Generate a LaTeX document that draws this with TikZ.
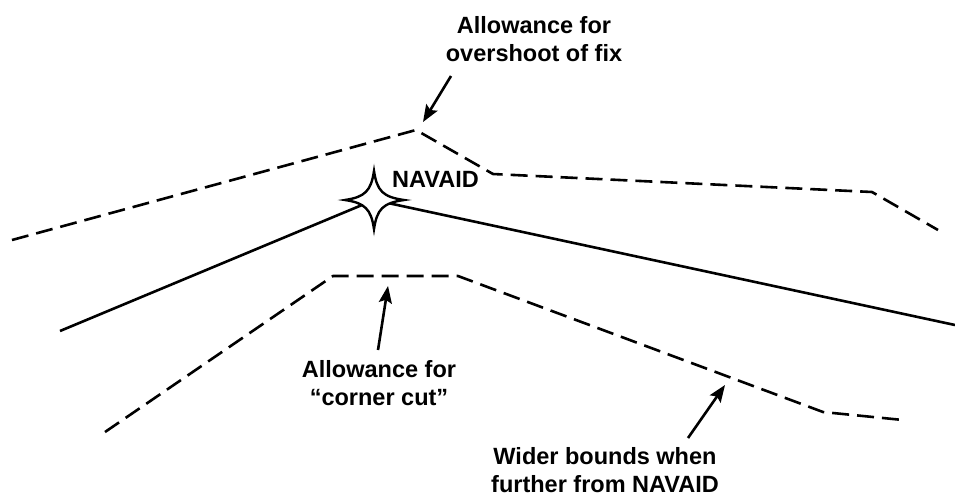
\documentclass[tikz,border=0pt]{standalone}
\usepackage{fontspec}
\setmainfont{Liberation Sans}
\usetikzlibrary{arrows.meta}
\begin{document}
\begin{tikzpicture}[x=1pt,y=-1pt,
  route/.style={line width=2.6pt, line join=round},
  bound/.style={line width=2.6pt, dash pattern=on 17pt off 8pt, line join=round},
  pointer/.style={line width=2.6pt, -{Stealth[length=17pt,width=13pt,inset=3pt]}},
  lbl/.style={font=\fontsize{23.5}{27.5}\selectfont\bfseries, align=center, inner sep=0pt, anchor=base}]
\useasboundingbox (0,0) rectangle (955,499);

% outer (overshoot) boundary
\coordinate (u1) at (12,240);
\coordinate (u2) at (416,130);
\coordinate (u3) at (493,174);
\coordinate (u4) at (872,192);
\coordinate (u5) at (938,230);
\draw[bound] (u1) -- (u2) -- (u3) -- (u4) -- (u5);

% nominal route through the navaid
\coordinate (r1) at (60,331);
\coordinate (navaid) at (374,200);
\coordinate (r2) at (955,325);
\draw[route] (r1) -- (navaid) -- (r2);

% inner (corner cut) boundary
\coordinate (l1) at (105,432);
\coordinate (l2) at (333,276);
\coordinate (l3) at (458,276);
\coordinate (l4) at (823,412);
\coordinate (l5) at (903,420);
\draw[bound] (l1) -- (l2) -- (l3) -- (l4) -- (l5);

% four-pointed navaid star
\draw[shift={(navaid)}, line width=2.4pt, fill=white, line join=miter, miter limit=20]
  (0,-29) .. controls (3,-9) and (9,-3) .. (30,0)
  .. controls (9,3) and (3,9) .. (0,29)
  .. controls (-3,9) and (-9,3) .. (-29,0)
  .. controls (-9,-3) and (-3,-9) .. cycle;

% labels (base anchor sits on the last line)
\node[lbl] (overshoot) at (534,61) {Allowance for\\overshoot of fix};
\node[lbl, anchor=base west] (navlbl) at (392,187) {NAVAID};
\node[lbl] (cornercut) at (379,405) {Allowance for\\“corner cut”};
\node[lbl] (wider) at (605,492) {Wider bounds when\\further from NAVAID};

% pointers
\coordinate (p1t) at (451,76);
\coordinate (p1h) at (423,122);
\draw[pointer] (p1t) -- (p1h);
\coordinate (p2t) at (378,350);
\coordinate (p2h) at (388,286);
\draw[pointer] (p2t) -- (p2h);
\coordinate (p3t) at (688,438);
\coordinate (p3h) at (725,385);
\draw[pointer] (p3t) -- (p3h);
\end{tikzpicture}
\end{document}
